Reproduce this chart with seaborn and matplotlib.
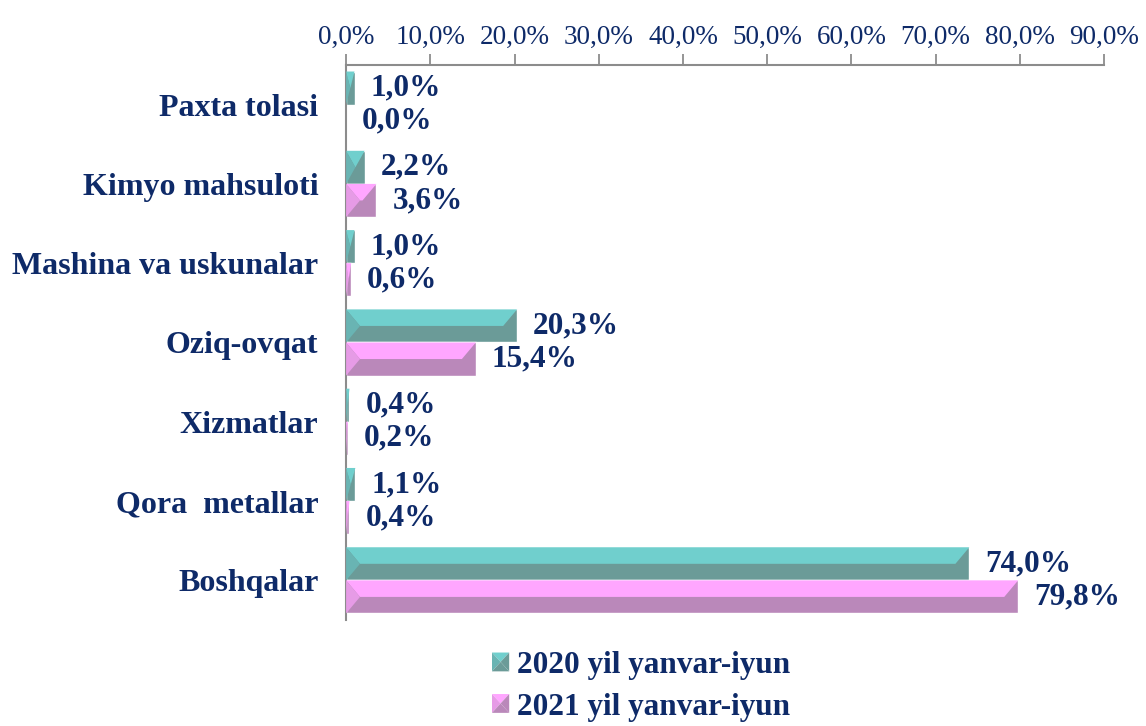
import numpy as np
import pandas as pd
import matplotlib
matplotlib.use('Agg')
import matplotlib.pyplot as plt
from matplotlib.patches import Polygon, Patch
from matplotlib.ticker import FuncFormatter, FixedLocator
import seaborn as sns

sns.set_style('white')
plt.rcParams['font.family'] = ['Liberation Serif', 'DejaVu Serif']

# data
categories = ['Paxta tolasi', 'Kimyo mahsuloti', 'Mashina va uskunalar', 'Oziq-ovqat',
              'Xizmatlar', 'Qora  metallar', 'Boshqalar']
series = ['2020 yil yanvar-iyun', '2021 yil yanvar-iyun']
v2020 = [1.0, 2.2, 1.0, 20.3, 0.4, 1.1, 74.0]
v2021 = [0.0, 3.6, 0.6, 15.4, 0.2, 0.4, 79.8]

df = pd.DataFrame({
    'cat': categories * 2,
    'val': v2020 + v2021,
    'year': [series[0]] * len(categories) + [series[1]] * len(categories),
})

navy = '#0E2A68'
grey = '#8C8C8C'
light = ['#70CFCD', '#FFA6FF']
mid = ['#69B4B3', '#E69BE6']
dark = ['#6B9B98', '#BA88BA']

fig = plt.figure(figsize=(11.46, 7.26), dpi=100)
ax = fig.add_axes([0.302, 0.146, 0.6614, 0.7645])

sns.barplot(data=df, y='cat', x='val', hue='year', orient='h', palette=dark,
            width=0.835, saturation=1, legend=False, ax=ax)

# bevel look on each bar
bev = 1.65
for i, cont in enumerate(ax.containers):
    for bar, v in zip(cont, cont.datavalues):
        x0, w = bar.get_x(), bar.get_width()
        y0, h = bar.get_y(), bar.get_height()
        x1 = x0 + w
        b = min(bev, w / 2)
        ym = y0 + h / 2
        ax.add_patch(Polygon([(x0, y0), (x1, y0), (x1 - b, ym), (x0 + b, ym)],
                             closed=True, facecolor=light[i], edgecolor='none', zorder=3))
        ax.add_patch(Polygon([(x0, y0), (x0 + b, ym), (x0, y0 + h)],
                             closed=True, facecolor=mid[i], edgecolor='none', zorder=3))
        ax.annotate(f'{v:.1f}%'.replace('.', ','), (x1, ym), xytext=(11.5, 0),
                    textcoords='offset points', ha='left', va='center',
                    fontsize=22.5, fontweight='bold', color=navy)

ax.set_xlim(0, 90)
ax.set_xticks(np.arange(0, 91, 10))
ax.xaxis.set_major_formatter(FuncFormatter(lambda v, p: f'{v:.1f}%'.replace('.', ',')))
ax.xaxis.set_ticks_position('top')
ax.xaxis.set_label_position('top')
ax.tick_params(axis='x', direction='out', length=8, width=1.3, color=grey,
               labelsize=19.5, labelcolor=navy, pad=3)
ax.tick_params(axis='y', which='major', length=0, pad=20)
for t in ax.get_yticklabels():
    t.set_fontsize(23)
    t.set_fontweight('bold')
    t.set_color(navy)
ax.yaxis.set_minor_locator(FixedLocator(np.arange(-0.5, len(categories), 1)))
ax.tick_params(axis='y', which='minor', direction='out', length=5, width=1.3, color=grey)
ax.set_xlabel('')
ax.set_ylabel('')

for s in ['bottom', 'right']:
    ax.spines[s].set_visible(False)
for s in ['top', 'left']:
    ax.spines[s].set_color(grey)
    ax.spines[s].set_linewidth(1.5)


class BevelHandler:
    def __init__(self, lt, md, dk):
        self.lt, self.md, self.dk = lt, md, dk

    def legend_artist(self, legend, orig_handle, fontsize, handlebox):
        x0, y0 = -handlebox.xdescent, -handlebox.ydescent
        w, h = handlebox.width, handlebox.height
        cx, cy = x0 + w / 2, y0 + h / 2
        tr = handlebox.get_transform()
        pts = [
            ([(x0, y0 + h), (x0 + w, y0 + h), (cx, cy)], self.lt),
            ([(x0, y0), (x0, y0 + h), (cx, cy)], self.md),
            ([(x0 + w, y0), (x0 + w, y0 + h), (cx, cy)], self.dk),
            ([(x0, y0), (x0 + w, y0), (cx, cy)], self.dk),
        ]
        last = None
        for p, c in pts:
            last = Polygon(p, closed=True, facecolor=c, edgecolor='none', transform=tr)
            handlebox.add_artist(last)
        return last


handles = [Patch(facecolor=dark[0]), Patch(facecolor=dark[1])]
hmap = {handles[i]: BevelHandler(light[i], mid[i], dark[i]) for i in range(2)}
leg = fig.legend(handles, series, handler_map=hmap, loc='upper left',
                 bbox_to_anchor=(492 / 1146, 1 - 651 / 726), frameon=False,
                 prop={'size': 22.5, 'weight': 'bold'}, handlelength=0.55,
                 handleheight=0.55, handletextpad=0.25, labelspacing=0.4,
                 borderpad=0, borderaxespad=0)
for t in leg.get_texts():
    t.set_color(navy)

fig.savefig('out.png', dpi=100)
